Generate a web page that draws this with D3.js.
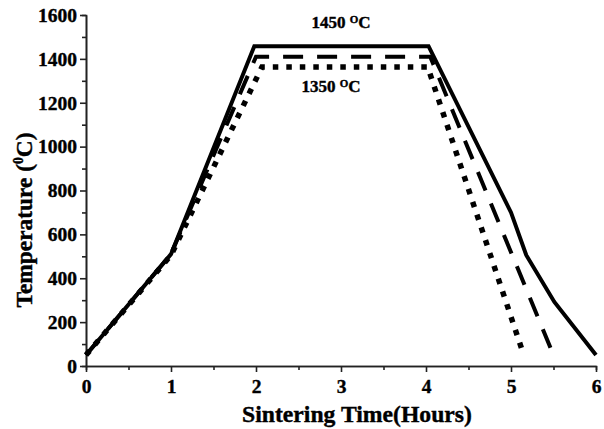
<!DOCTYPE html>
<html>
<head>
<meta charset="utf-8">
<script src="https://cdn.jsdelivr.net/npm/d3@7"></script>
<style>
    body { margin: 0; background: #fff; }
    svg { display: block; font-family: "Liberation Serif", "Times New Roman", serif; font-weight: bold; }
    text { stroke: #000; stroke-width: 0.4px; }
</style>
</head>
<body>
<svg width="604" height="429"></svg>
<script>
// sintering profiles, time in hours, temperature in C
var profile1450 = [[0, 50], [1, 510], [1.98, 1458], [4.03, 1458], [5, 700], [5.18, 505], [5.51, 292], [6, 50]];
var profile1400 = [[0, 50], [1, 510], [2, 1410], [4.05, 1410], [5.5, 50]];
var profile1350 = [[0, 50], [1, 505], [2.07, 1363], [4.02, 1363], [5.15, 50]];

var xTicks = [0, 1, 2, 3, 4, 5, 6];
var xMinor = [0.5, 1.5, 2.5, 3.5, 4.5, 5.5];
var yTicks = [0, 200, 400, 600, 800, 1000, 1200, 1400, 1600];
var yMinor = [100, 300, 500, 700, 900, 1100, 1300, 1500];

var x = d3.scaleLinear().domain([0, 6]).range([86, 596]);
var y = d3.scaleLinear().domain([0, 1600]).range([366, 15]);

var svg = d3.select("svg");

// minor ticks first
svg.append("g")
    .attr("transform", "translate(0,366)")
    .call(d3.axisBottom(x).tickValues(xMinor).tickSize(4).tickFormat(""));
svg.append("g")
    .attr("transform", "translate(86,0)")
    .call(d3.axisLeft(y).tickValues(yMinor).tickSize(4).tickFormat(""));

svg.append("g")
    .attr("class", "axis")
    .attr("transform", "translate(0,366)")
    .call(d3.axisBottom(x).tickValues(xTicks).tickFormat(d3.format("d"))
        .tickSize(6).tickSizeOuter(0).tickPadding(7));

svg.append("g")
    .attr("class", "axis")
    .attr("transform", "translate(86,0)")
    .call(d3.axisLeft(y).tickValues(yTicks).tickFormat(d3.format("d"))
        .tickSize(6).tickSizeOuter(0).tickPadding(3));

svg.selectAll("g path.domain, g line")
    .attr("stroke", "#222")
    .attr("stroke-width", 1.6);

svg.selectAll(".axis text")
    .attr("font-family", "Liberation Serif, serif")
    .attr("font-weight", "bold")
    .attr("font-size", 19.5)
    .attr("fill", "#000");

var line = d3.line()
    .x(function(d) { return x(d[0]); })
    .y(function(d) { return y(d[1]); });

svg.append("path")
    .datum(profile1450)
    .attr("d", line)
    .attr("fill", "none")
    .attr("stroke", "#000")
    .attr("stroke-width", 4);

svg.append("path")
    .datum(profile1400)
    .attr("d", line)
    .attr("fill", "none")
    .attr("stroke", "#000")
    .attr("stroke-width", 4)
    .attr("stroke-dasharray", "20,14");

svg.append("path")
    .datum(profile1350)
    .attr("d", line)
    .attr("fill", "none")
    .attr("stroke", "#000")
    .attr("stroke-width", 5.5)
    .attr("stroke-dasharray", "5.5,8");

// annotations
var t1 = svg.append("text")
    .attr("x", 341)
    .attr("y", 28)
    .attr("text-anchor", "middle")
    .attr("font-size", 17);
t1.append("tspan").text("1450 ");
t1.append("tspan").attr("font-size", 11).attr("dy", -5).text("O");
t1.append("tspan").attr("dy", 5).text("C");

var t2 = svg.append("text")
    .attr("x", 331)
    .attr("y", 92)
    .attr("text-anchor", "middle")
    .attr("font-size", 17);
t2.append("tspan").text("1350 ");
t2.append("tspan").attr("font-size", 11).attr("dy", -5).text("O");
t2.append("tspan").attr("dy", 5).text("C");

// axis titles, squeezed to the width they have in the original
function squeeze(sel, target) {
    let w = sel.node().getBBox().width;
    return target / w;
}

var xt = svg.append("text")
    .attr("text-anchor", "middle")
    .attr("font-size", 24)
    .text("Sintering Time(Hours)");
xt.attr("transform", "translate(357,422) scale(" + squeeze(xt, 230) + ",1)");

var yt = svg.append("text")
    .attr("text-anchor", "middle")
    .attr("font-size", 24);
yt.append("tspan").text("Temperature (");
yt.append("tspan").attr("font-size", 14).attr("dy", -9).text("0");
yt.append("tspan").attr("dy", 9).text("C)");
yt.attr("transform", "translate(32,220) rotate(-90) scale(" + squeeze(yt, 175) + ",1)");
</script>
</body>
</html>
